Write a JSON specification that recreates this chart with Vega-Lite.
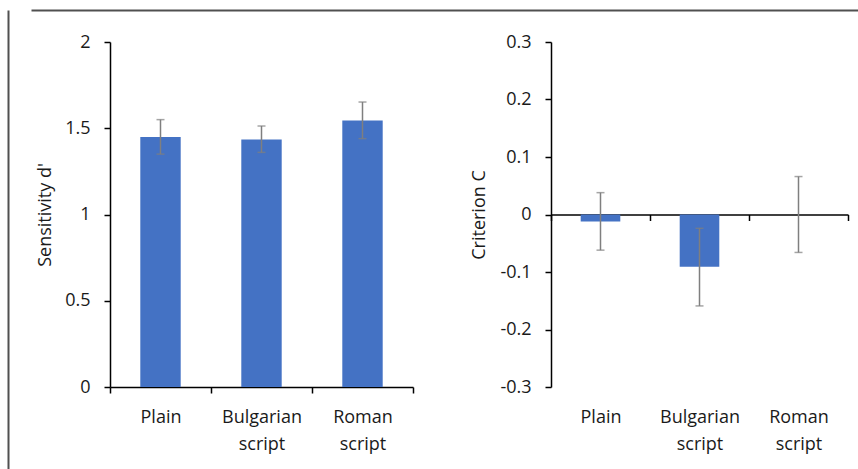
{
  "$schema": "https://vega.github.io/schema/vega-lite/v6.json",
  "padding": {"left": 8, "top": 10, "right": 0, "bottom": 0},
  "background": "white",
  "spacing": 0,
  "config": {
    "font": "Open Sans",
    "view": {"stroke": null},
    "axis": {
      "labelFont": "Open Sans",
      "titleFont": "Open Sans",
      "labelFontSize": 18,
      "titleFontSize": 18,
      "titleFontWeight": "normal",
      "labelColor": "#1a1a1a",
      "titleColor": "#1a1a1a",
      "domainColor": "#000000",
      "tickColor": "#000000",
      "domainWidth": 1.5,
      "tickWidth": 1.5,
      "tickSize": 6,
      "grid": false
    }
  },
  "hconcat": [
    {
      "width": 0,
      "height": 460,
      "data": {"values": [{"v": 0}]},
      "mark": {"type": "point", "opacity": 0},
      "encoding": {
        "y": {"field": "v", "type": "quantitative", "scale": {"domain": [0, 1]},
          "axis": {"orient": "left", "title": null, "labels": false, "ticks": false, "domainColor": "#505050", "domainWidth": 2}}
      }
    },
    {
      "spacing": 0,
      "vconcat": [
        {
          "width": 850,
          "height": 23,
          "data": {"values": [{"v": 0}]},
          "mark": {"type": "point", "opacity": 0},
          "encoding": {
            "x": {"field": "v", "type": "quantitative", "scale": {"domain": [0, 1]},
              "axis": {"orient": "top", "title": null, "labels": false, "ticks": false, "domainColor": "#505050", "domainWidth": 2}}
          }
        },
        {
          "spacing": 0,
          "hconcat": [
            {
              "width": 4,
              "height": 1,
              "data": {"values": [{"v": 0}]},
              "mark": {"type": "point", "opacity": 0},
              "encoding": {}
            },
            {
              "spacing": 56,
              "hconcat": [
                {
                  "width": 303,
                  "height": 345,
                  "data": {"values": [
                    {"cond": "Plain", "d": 1.45, "lo": 1.35, "hi": 1.55},
                    {"cond": "Bulgarian script", "d": 1.435, "lo": 1.36, "hi": 1.513},
                    {"cond": "Roman script", "d": 1.545, "lo": 1.44, "hi": 1.652}
                  ]},
                  "layer": [
                    {
                      "mark": {"type": "bar", "color": "#4472C4", "width": {"band": 0.4}},
                      "encoding": {
                        "x": {"field": "cond", "type": "nominal", "sort": null,
                          "scale": {"paddingInner": 0, "paddingOuter": 0},
                          "axis": {"title": null, "labelAngle": 0, "tickBand": "extent", "labelPadding": 15,
                            "labelExpr": "split(datum.label, ' ')", "labelLineHeight": 27}},
                        "y": {"field": "d", "type": "quantitative",
                          "scale": {"domain": [0, 2]},
                          "axis": {"title": "Sensitivity d'", "values": [0, 0.5, 1, 1.5, 2],
                            "labelExpr": "toString(datum.value)", "labelPadding": 14, "titlePadding": 10}}
                      }
                    },
                    {
                      "mark": {"type": "rule", "color": "#7f7f7f", "strokeWidth": 1.5},
                      "encoding": {
                        "x": {"field": "cond", "type": "nominal", "sort": null},
                        "y": {"field": "lo", "type": "quantitative"},
                        "y2": {"field": "hi"}
                      }
                    },
                    {
                      "mark": {"type": "tick", "color": "#7f7f7f", "orient": "horizontal", "size": 8, "thickness": 1.5},
                      "encoding": {
                        "x": {"field": "cond", "type": "nominal", "sort": null},
                        "y": {"field": "lo", "type": "quantitative"}
                      }
                    },
                    {
                      "mark": {"type": "tick", "color": "#7f7f7f", "orient": "horizontal", "size": 8, "thickness": 1.5},
                      "encoding": {
                        "x": {"field": "cond", "type": "nominal", "sort": null},
                        "y": {"field": "hi", "type": "quantitative"}
                      }
                    }
                  ]
                },
                {
                  "width": 297,
                  "height": 345,
                  "data": {"values": [
                    {"cond": "Plain", "c": -0.012, "lo": -0.062, "hi": 0.038},
                    {"cond": "Bulgarian script", "c": -0.091, "lo": -0.159, "hi": -0.024},
                    {"cond": "Roman script", "c": 0.0, "lo": -0.066, "hi": 0.066}
                  ]},
                  "layer": [
                    {
                      "mark": {"type": "bar", "color": "#4472C4", "width": {"band": 0.4}},
                      "encoding": {
                        "x": {"field": "cond", "type": "nominal", "sort": null,
                          "scale": {"paddingInner": 0, "paddingOuter": 0},
                          "axis": {"title": null, "labelAngle": 0, "tickBand": "extent", "offset": -172.5,
                            "labelPadding": 187.5, "labelExpr": "split(datum.label, ' ')", "labelLineHeight": 27}},
                        "y": {"field": "c", "type": "quantitative",
                          "scale": {"domain": [-0.3, 0.3]},
                          "axis": {"title": "Criterion C", "values": [-0.3, -0.2, -0.1, 0, 0.1, 0.2, 0.3],
                            "labelExpr": "toString(datum.value)", "labelPadding": 14, "titlePadding": 11}}
                      }
                    },
                    {
                      "mark": {"type": "rule", "color": "#7f7f7f", "strokeWidth": 1.5},
                      "encoding": {
                        "x": {"field": "cond", "type": "nominal", "sort": null},
                        "y": {"field": "lo", "type": "quantitative"},
                        "y2": {"field": "hi"}
                      }
                    },
                    {
                      "mark": {"type": "tick", "color": "#7f7f7f", "orient": "horizontal", "size": 8, "thickness": 1.5},
                      "encoding": {
                        "x": {"field": "cond", "type": "nominal", "sort": null},
                        "y": {"field": "lo", "type": "quantitative"}
                      }
                    },
                    {
                      "mark": {"type": "tick", "color": "#7f7f7f", "orient": "horizontal", "size": 8, "thickness": 1.5},
                      "encoding": {
                        "x": {"field": "cond", "type": "nominal", "sort": null},
                        "y": {"field": "hi", "type": "quantitative"}
                      }
                    }
                  ]
                }
              ]
            }
          ]
        }
      ]
    }
  ]
}
